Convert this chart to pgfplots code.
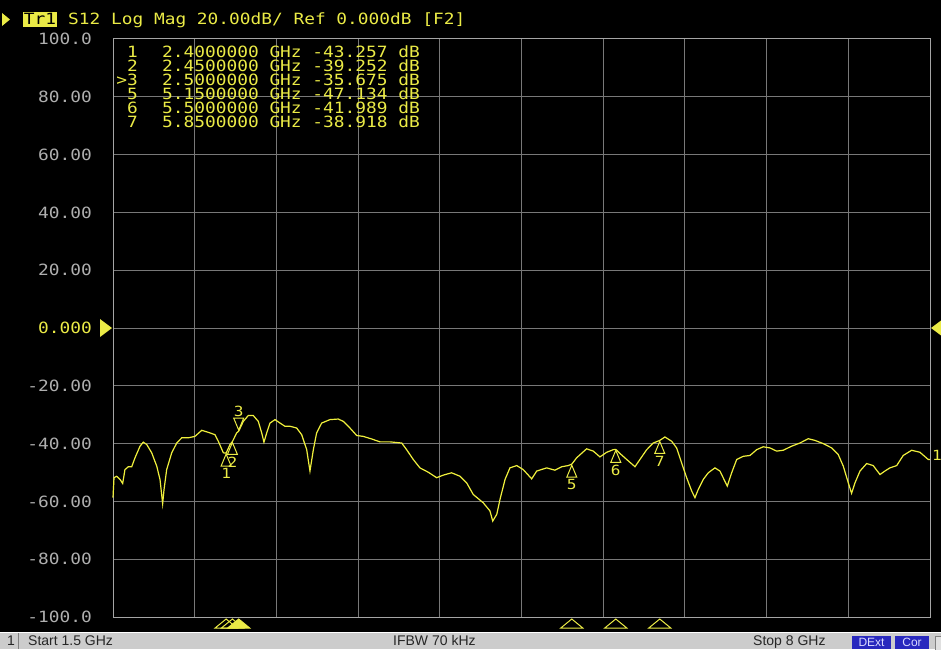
\documentclass[border=0pt]{standalone}
\usepackage{pgfplots}
\pgfplotsset{compat=1.18}
\usepackage{fontspec}
\setmainfont{Liberation Sans}
\newfontfamily\vna[FakeStretch=1.15]{DejaVu Sans Mono}

\definecolor{trc}{RGB}{240,240,60}
\definecolor{yel}{RGB}{235,235,70}
\definecolor{gridc}{RGB}{120,120,120}
\definecolor{framec}{RGB}{165,165,165}
\definecolor{lblc}{RGB}{175,175,175}
\definecolor{barc}{RGB}{204,204,204}
\definecolor{boxc}{RGB}{40,40,190}

% marker shapes, sizes in px (1pt = 1px here)
\pgfdeclareplotmark{mup}{%
  \pgfpathmoveto{\pgfpoint{0pt}{-1pt}}%
  \pgfpathlineto{\pgfpoint{-5pt}{-13pt}}%
  \pgfpathlineto{\pgfpoint{5pt}{-13pt}}%
  \pgfpathclose\pgfusepathqstroke}
\pgfdeclareplotmark{mdown}{%
  \pgfpathmoveto{\pgfpoint{0pt}{1pt}}%
  \pgfpathlineto{\pgfpoint{-5pt}{13pt}}%
  \pgfpathlineto{\pgfpoint{5pt}{13pt}}%
  \pgfpathclose\pgfusepathqstroke}
\pgfdeclareplotmark{btri}{%
  \pgfpathmoveto{\pgfpoint{0pt}{-2pt}}%
  \pgfpathlineto{\pgfpoint{-11pt}{-11pt}}%
  \pgfpathlineto{\pgfpoint{11pt}{-11pt}}%
  \pgfpathclose\pgfusepathqstroke}
\pgfdeclareplotmark{btrif}{%
  \pgfpathmoveto{\pgfpoint{0pt}{-2pt}}%
  \pgfpathlineto{\pgfpoint{-11pt}{-11pt}}%
  \pgfpathlineto{\pgfpoint{11pt}{-11pt}}%
  \pgfpathclose\pgfusepathqfillstroke}

\pgfplotstableread{
f dB
1.500 -58.7
1.508 -51.8
1.529 -51.3
1.556 -52.4
1.577 -53.8
1.595 -49.0
1.622 -48.0
1.649 -48.0
1.675 -44.9
1.715 -40.9
1.741 -39.5
1.768 -40.3
1.808 -43.2
1.848 -47.8
1.874 -52.4
1.895 -60.8
1.906 -55.9
1.927 -49.0
1.967 -43.2
2.007 -39.8
2.047 -38.0
2.099 -38.0
2.152 -37.5
2.206 -35.4
2.258 -36.1
2.311 -36.9
2.338 -39.2
2.378 -43.2
2.400 -43.3
2.431 -40.3
2.450 -39.3
2.484 -36.3
2.500 -35.7
2.537 -32.3
2.576 -30.3
2.616 -30.3
2.656 -32.3
2.683 -36.3
2.701 -39.5
2.723 -36.3
2.749 -32.9
2.789 -31.7
2.829 -32.9
2.868 -34.0
2.908 -34.0
2.961 -34.6
3.001 -36.9
3.041 -42.1
3.067 -49.5
3.094 -42.1
3.120 -36.3
3.160 -32.9
3.226 -31.7
3.292 -31.5
3.332 -32.3
3.385 -34.6
3.439 -37.2
3.491 -37.5
3.558 -38.4
3.624 -39.4
3.704 -39.4
3.797 -39.8
3.836 -42.1
3.889 -45.5
3.942 -48.4
4.008 -49.9
4.075 -51.8
4.128 -50.9
4.194 -50.1
4.261 -51.3
4.314 -53.6
4.366 -57.6
4.446 -60.5
4.499 -63.3
4.521 -66.8
4.553 -64.5
4.579 -59.3
4.619 -52.4
4.658 -48.4
4.712 -47.6
4.764 -49.0
4.831 -52.2
4.871 -49.5
4.950 -48.4
5.016 -49.2
5.070 -48.0
5.122 -47.6
5.150 -47.1
5.189 -44.9
5.268 -41.8
5.321 -42.6
5.374 -44.6
5.428 -43.0
5.480 -42.1
5.500 -42.0
5.533 -43.4
5.587 -45.5
5.653 -48.0
5.692 -45.5
5.746 -42.1
5.798 -39.8
5.850 -38.9
5.891 -37.7
5.945 -39.2
5.984 -41.5
6.024 -46.7
6.064 -51.8
6.104 -56.4
6.130 -58.7
6.156 -55.9
6.196 -52.4
6.236 -50.1
6.289 -48.4
6.329 -49.5
6.361 -52.4
6.387 -54.7
6.422 -50.1
6.462 -45.5
6.514 -44.4
6.568 -44.1
6.621 -42.1
6.673 -41.1
6.727 -41.5
6.780 -42.6
6.832 -42.3
6.899 -40.9
6.965 -39.8
7.031 -38.3
7.085 -38.9
7.151 -40.0
7.218 -41.5
7.270 -43.8
7.310 -47.8
7.350 -53.6
7.376 -57.2
7.403 -53.6
7.443 -49.5
7.496 -46.9
7.548 -47.6
7.602 -50.7
7.641 -49.5
7.681 -48.4
7.735 -47.6
7.787 -44.1
7.854 -42.3
7.920 -43.0
7.986 -45.5
8.000 -45.5
}\trace

\begin{document}
\begin{tikzpicture}
\useasboundingbox (0pt,0pt) rectangle (941pt,649pt);
\clip (0pt,0pt) rectangle (941pt,649pt);
\fill[black] (0pt,0pt) rectangle (941pt,649pt);

% header
\fill[yel] (2pt,636pt) -- (2pt,623pt) -- (10pt,629.5pt) -- cycle;
\fill[yel] (23pt,622pt) rectangle (57pt,637pt);
\node[anchor=base, inner sep=0pt, font=\fontsize{15.5}{16}\vna, text=black] at (40pt,624pt) {Tr1};
\node[anchor=base west, inner sep=0pt, font=\fontsize{15.5}{16}\vna, text=yel] at (68pt,624pt)
  {S12 Log Mag 20.00dB/ Ref 0.000dB [F2]};

% status bar
\fill[barc] (0pt,0pt) rectangle (941pt,17pt);
\draw[white, line width=1pt] (0pt,16.5pt) -- (941pt,16.5pt);
\draw[gray, line width=1pt] (18pt,0pt) -- (18pt,16pt);
\begin{scope}[every node/.style={anchor=base west, inner sep=0pt, font=\fontsize{14}{15}\selectfont, text=black!85}]
\node at (7pt,3.3pt) {1};
\node at (28pt,3.3pt) {Start 1.5 GHz};
\node at (393pt,3.3pt) {IFBW 70 kHz};
\node at (753pt,3.3pt) {Stop 8 GHz};
\end{scope}
\fill[boxc] (852pt,0pt) rectangle (891pt,13pt);
\fill[boxc] (895pt,0pt) rectangle (929pt,13pt);
\draw[gray, fill=barc!60!white] (935pt,-1pt) rectangle (945pt,13pt);
\begin{scope}[every node/.style={anchor=base, inner sep=0pt, font=\fontsize{12}{13}\selectfont, text=blue!15!white}]
\node at (871.5pt,3pt) {DExt};
\node at (912pt,3pt) {Cor};
\end{scope}

\begin{axis}[
  at={(113pt,32pt)}, anchor=south west, scale only axis,
  width=817pt, height=578pt,
  xmin=1.5, xmax=8, ymin=-100, ymax=100,
  xtick={1.5,2.15,2.8,3.45,4.1,4.75,5.4,6.05,6.7,7.35,8},
  xticklabels={},
  ytick={-100,-80,...,100},
  yticklabels={-100.0,-80.00,-60.00,-40.00,-20.00,{\textcolor{yel}{0.000}},20.00,40.00,60.00,80.00,100.0},
  yticklabel style={font=\fontsize{15.5}{16}\vna, text=lblc, anchor=east, inner sep=0pt, xshift=-21pt},
  grid=major,
  major grid style={gridc, line width=1pt},
  axis line style={framec, line width=1pt},
  major tick length=0pt,
  clip=false,
]
\addplot[trc, line width=1.2pt, mark=none] table[x=f, y=dB] {\trace};

% markers on the trace
\addplot[only marks, mark=mup, yel, line width=1pt,
  point meta=explicit symbolic, nodes near coords,
  every node near coord/.append style={anchor=north, yshift=-15pt, inner sep=0pt,
    font=\fontsize{14}{14}\vna, text=yel}]
  coordinates {(2.4,-43.257)[1] (2.45,-39.252)[2] (5.15,-47.134)[5] (5.5,-41.989)[6] (5.85,-38.918)[7]};
\addplot[only marks, mark=mdown, yel, line width=1pt,
  point meta=explicit symbolic, nodes near coords,
  every node near coord/.append style={anchor=south, yshift=14pt, inner sep=0pt,
    font=\fontsize{14}{14}\vna, text=yel}]
  coordinates {(2.5,-35.675)[3]};

% marker positions under the grid
\addplot[only marks, mark=btri, yel, line width=1pt]
  coordinates {(2.4,-100) (2.45,-100) (5.15,-100) (5.5,-100) (5.85,-100)};
\addplot[only marks, mark=btrif, yel, fill=yel, line width=1pt]
  coordinates {(2.5,-100)};

% reference level arrows
\fill[yel] (axis cs:1.5,0) ++(-1pt,0pt) -- ++(-12pt,9pt) -- ++(0pt,-18pt) -- cycle;
\fill[yel] (axis cs:8,0) ++(1pt,0pt) -- ++(12pt,9pt) -- ++(0pt,-18pt) -- cycle;
\node[anchor=west, inner sep=0pt, xshift=2pt, font=\fontsize{14}{14}\vna, text=yel] at (axis cs:8,-44) {1};
\end{axis}

% marker table (screen text, px positions)
\begin{scope}[every node/.style={inner sep=0pt, font=\fontsize{15.5}{16}\vna, text=yel}]
\foreach \n/\fr/\v/\yb in {1/2.4000000/-43.257/591.5, 2/2.4500000/-39.252/577.5,
    {>3}/2.5000000/-35.675/563.5, 5/5.1500000/-47.134/549.5,
    6/5.5000000/-41.989/535.5, 7/5.8500000/-38.918/521.5}{
  \node[anchor=base east] at (138pt,\yb pt) {\n};
  \node[anchor=base west] at (162pt,\yb pt) {\fr\ GHz \v\ dB};
}
\end{scope}
\end{tikzpicture}
\end{document}
